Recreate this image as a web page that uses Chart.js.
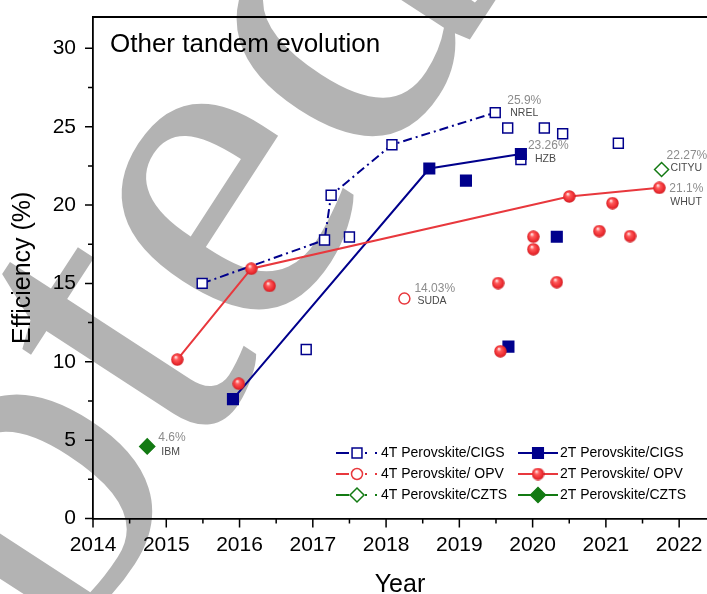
<!DOCTYPE html>
<html>
<head>
<meta charset="utf-8">
<script src="https://cdn.jsdelivr.net/npm/chart.js@4.4.1/dist/chart.umd.min.js"></script>
<style>
  body { margin: 0; background: #fff; }
  canvas { display: block; }
</style>
</head>
<body>
<canvas id="myChart" width="707" height="594"></canvas>
<script>
let xTicks = [2014, 2015, 2016, 2017, 2018, 2019, 2020, 2021, 2022];
let yTicks = [0, 5, 10, 15, 20, 25, 30];

// [year, efficiency]; "Line" = record points joined by the line, "Other" = loose points
let cigs4TLine = [[2015.49, 15.0], [2017.16, 17.77], [2017.25, 20.63], [2018.08, 23.85], [2019.49, 25.9]];
let cigs4TOther = [[2016.91, 10.78], [2017.50, 17.96], [2019.66, 24.92], [2019.84, 22.9], [2020.16, 24.92], [2020.41, 24.55], [2021.17, 23.94]];
let cigs2TLine = [[2015.91, 7.62], [2018.59, 22.33], [2019.84, 23.26]];
let cigs2TOther = [[2019.09, 21.56], [2019.67, 10.97], [2020.33, 17.98]];
let opv4TLine = [];
let opv4TOther = [[2018.25, 14.03]];
let opv2TLine = [[2015.15, 10.14], [2016.16, 15.94], [2020.50, 20.55], [2021.73, 21.1]];
let opv2TOther = [[2015.99, 8.6], [2016.41, 14.84], [2019.53, 15.02], [2019.56, 10.67], [2020.01, 17.98], [2020.01, 17.18],
                  [2020.33, 15.08], [2020.91, 18.34], [2021.09, 20.12], [2021.33, 18.02]];
let czts4TLine = [];
let czts4TOther = [[2021.76, 22.27]];
let czts2TLine = [];
let czts2TOther = [[2014.74, 4.6]];

// labelled records
let recordLabs = ["NREL", "HZB", "SUDA", "WHUT", "CITYU", "IBM"];
let recordSeries = [0, 1, 2, 3, 4, 5];
let recordPoint = [4, 2, 0, 3, 0, 0];

const navy = "#00008c";
const red = "#e8383d";
const green = "#137a13";

function makeBall(d) {
  let c = document.createElement("canvas");
  c.width = d;
  c.height = d;
  let g = c.getContext("2d");
  let r = d / 2;
  let grad = g.createRadialGradient(r * 0.75, r * 0.6, 0.4, r, r, r);
  grad.addColorStop(0, "#ffe6e6");
  grad.addColorStop(0.3, "#ff5a5a");
  grad.addColorStop(0.75, "#ec2b30");
  grad.addColorStop(1, "#c81e23");
  g.fillStyle = grad;
  g.beginPath();
  g.arc(r, r, r - 0.3, 0, Math.PI * 2);
  g.fill();
  return c;
}
let ball = makeBall(13);

function serie(label, line, other, color, dash, point) {
  let n = line.length;
  return Object.assign({
    label: label,
    data: line.concat(other).map(p => ({ x: p[0], y: p[1] })),
    showLine: n > 1,
    borderColor: color,
    borderWidth: 2,
    borderDash: dash,
    segment: {
      borderColor: ctx => (ctx.p1DataIndex < n ? color : "rgba(0,0,0,0)")
    },
    pointBorderWidth: 1.5,
    pointBorderColor: color
  }, point);
}

let datasets = [
  serie("4T Perovskite/CIGS", cigs4TLine, cigs4TOther, navy, [9, 4, 2, 4],
    { pointStyle: "rect", pointRadius: 7, pointBackgroundColor: "#fff", order: 6 }),
  serie("2T Perovskite/CIGS", cigs2TLine, cigs2TOther, navy, [],
    { pointStyle: "rect", pointRadius: 7.5, pointBackgroundColor: navy, order: 5 }),
  serie("4T Perovskite/ OPV", opv4TLine, opv4TOther, red, [9, 4, 2, 4],
    { pointStyle: "circle", pointRadius: 5.5, pointBackgroundColor: "#fff", order: 4 }),
  serie("2T Perovskite/ OPV", opv2TLine, opv2TOther, red, [],
    { pointStyle: ball, pointRadius: 6.5, pointBackgroundColor: red, order: 3 }),
  serie("4T Perovskite/CZTS", czts4TLine, czts4TOther, green, [9, 4, 2, 4],
    { pointStyle: "rectRot", pointRadius: 7, pointBackgroundColor: "#fff", order: 2 }),
  serie("2T Perovskite/CZTS", czts2TLine, czts2TOther, green, [],
    { pointStyle: "rectRot", pointRadius: 7.5, pointBackgroundColor: green, order: 1 })
];

// offsets of the two label lines from their point
let labOffsets = [
  [12, -12, 15, 1],
  [7, -8, 14, 5],
  [10, -10, 13, 2],
  [10, 1, 11, 14],
  [5, -14, 9, -1],
  [11, -9, 14, 6]
];

const extras = {
  id: "extras",
  beforeDraw(chart) {
    let ctx = chart.ctx;
    ctx.save();
    ctx.fillStyle = "#fff";
    ctx.fillRect(0, 0, chart.width, chart.height);
    // watermark
    ctx.translate(506, -16);
    ctx.rotate(-57 * Math.PI / 180);
    ctx.font = '470px "Liberation Serif"';
    ctx.fillStyle = "#b3b3b3";
    ctx.textAlign = "right";
    ctx.textBaseline = "alphabetic";
    ctx.fillText("Accepted", 0, 0);
    ctx.restore();
  },
  afterDatasetsDraw(chart) {
    let ctx = chart.ctx;
    ctx.save();
    ctx.textBaseline = "middle";
    ctx.textAlign = "left";
    recordLabs.forEach((lab, k) => {
      let el = chart.getDatasetMeta(recordSeries[k]).data[recordPoint[k]];
      let v = chart.data.datasets[recordSeries[k]].data[recordPoint[k]].y;
      let o = labOffsets[k];
      ctx.fillStyle = "#8c8c8c";
      ctx.font = '12px "Liberation Sans"';
      ctx.fillText(v + "%", el.x + o[0], el.y + o[1]);
      ctx.fillStyle = "#4a4a4a";
      ctx.font = '10.5px "Liberation Sans"';
      ctx.fillText(lab, el.x + o[2], el.y + o[3]);
    });
    ctx.restore();
  },
  afterDraw(chart) {
    let ctx = chart.ctx;
    let a = chart.chartArea;
    let sx = chart.scales.x, sy = chart.scales.y;
    ctx.save();
    ctx.strokeStyle = "#000";
    ctx.lineWidth = 1.8;
    ctx.beginPath();
    ctx.moveTo(a.left, a.top);
    ctx.lineTo(chart.width, a.top);
    ctx.stroke();

    ctx.lineWidth = 1.5;
    ctx.beginPath();
    xTicks.forEach(v => {
      let px = sx.getPixelForValue(v);
      ctx.moveTo(px, a.bottom);
      ctx.lineTo(px, a.bottom + 9);
      if (v + 0.5 <= sx.max) {
        let pm = sx.getPixelForValue(v + 0.5);
        ctx.moveTo(pm, a.bottom);
        ctx.lineTo(pm, a.bottom + 5);
      }
    });
    yTicks.forEach(v => {
      let py = sy.getPixelForValue(v);
      ctx.moveTo(a.left - 8, py);
      ctx.lineTo(a.left, py);
      if (v + 2.5 <= sy.max) {
        let pm = sy.getPixelForValue(v + 2.5);
        ctx.moveTo(a.left - 5, pm);
        ctx.lineTo(a.left, pm);
      }
    });
    ctx.stroke();

    // title inside the plot
    ctx.fillStyle = "#000";
    ctx.font = '26px "Liberation Sans"';
    ctx.textBaseline = "middle";
    ctx.textAlign = "left";
    ctx.fillText("Other tandem evolution", a.left + 17, 45);

    // legend, two columns
    let colX = [336, 518];
    let rowY = [453, 474, 495];
    chart.data.datasets.forEach((ds, i) => {
      let x0 = colX[i % 2];
      let y = rowY[Math.floor(i / 2)];
      ctx.strokeStyle = ds.borderColor;
      ctx.lineWidth = 2;
      ctx.setLineDash([]);
      ctx.beginPath();
      let mx;
      if (ds.borderDash.length) {
        ctx.moveTo(x0, y);
        ctx.lineTo(x0 + 13, y);
        ctx.stroke();
        ctx.fillStyle = ds.borderColor;
        ctx.fillRect(x0 + 29, y - 1, 2, 2);
        ctx.fillRect(x0 + 39, y - 1, 2, 2);
        mx = x0 + 21;
      } else {
        ctx.moveTo(x0, y);
        ctx.lineTo(x0 + 40, y);
        ctx.stroke();
        mx = x0 + 20;
      }
      ctx.fillStyle = ds.pointBackgroundColor;
      ctx.strokeStyle = ds.pointBorderColor;
      ctx.lineWidth = ds.pointBorderWidth;
      Chart.helpers.drawPoint(ctx, { pointStyle: ds.pointStyle, radius: ds.pointRadius, rotation: 0, borderWidth: ds.pointBorderWidth }, mx, y);
      ctx.fillStyle = "#000";
      ctx.font = '14px "Liberation Sans"';
      ctx.textAlign = "left";
      ctx.textBaseline = "middle";
      ctx.fillText(ds.label, i % 2 ? 560 : 381, y);
    });
    ctx.restore();
  }
};

Chart.defaults.font.family = '"Liberation Sans", Arial, sans-serif';
Chart.defaults.color = "#000";

let chart = new Chart("myChart", {
  type: "scatter",
  data: { datasets: datasets },
  options: {
    responsive: false,
    animation: false,
    layout: { autoPadding: false, padding: { top: 17, right: 0, bottom: 0, left: 0 } },
    plugins: {
      legend: { display: false },
      tooltip: { enabled: false }
    },
    scales: {
      x: {
        type: "linear",
        min: 2014,
        max: 2022.38,
        grid: { display: false, drawTicks: false },
        border: { display: true, color: "#000", width: 1.8 },
        afterBuildTicks: s => { s.ticks = xTicks.map(v => ({ value: v })); },
        afterFit: s => { s.height = 75.5; s.paddingRight = 0; s.paddingLeft = 0; },
        ticks: {
          autoSkip: false,
          maxRotation: 0,
          padding: 14.5,
          font: { size: 21 },
          callback: v => String(v)
        },
        title: {
          display: true,
          text: "Year",
          font: { size: 25, lineHeight: 0.7 },
          padding: { top: 0, bottom: 0 }
        }
      },
      y: {
        min: 0,
        max: 32,
        grid: { display: false, drawTicks: false },
        border: { display: true, color: "#000", width: 1.8 },
        afterBuildTicks: s => { s.ticks = yTicks.map(v => ({ value: v })); },
        afterFit: s => { s.width = 93; s.paddingTop = 0; s.paddingBottom = 0; },
        ticks: {
          padding: 17,
          font: { size: 21 }
        },
        title: {
          display: true,
          text: "Efficiency (%)",
          font: { size: 25, lineHeight: 1 },
          padding: { top: 10.5, bottom: 0 }
        }
      }
    }
  },
  plugins: [extras]
});
</script>
</body>
</html>
